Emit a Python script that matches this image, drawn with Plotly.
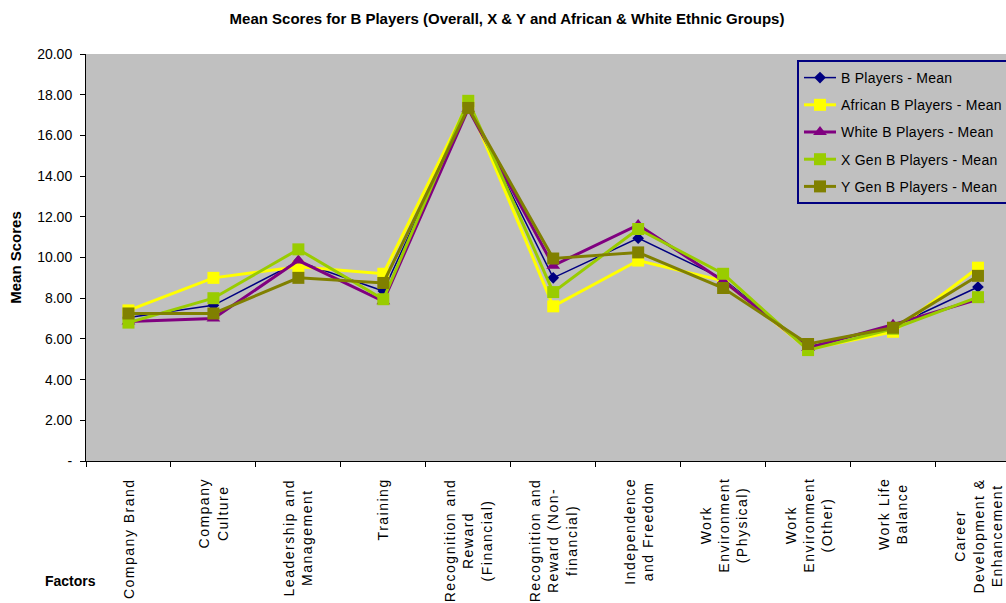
import plotly.graph_objects as go

# Factor names (x categories) and their wrapped axis labels
categories = [
    "Company Brand", "Company Culture", "Leadership and Management", "Training",
    "Recognition and Reward (Financial)", "Recognition and Reward (Non-financial)",
    "Independence and Freedom", "Work Environment (Physical)",
    "Work Environment (Other)", "Work Life Balance", "Career Development & Enhancement",
]
tick_labels = [
    "Company Brand", "Company<br>Culture", "Leadership and<br>Management", "Training",
    "Recognition and<br>Reward<br>(Financial)", "Recognition and<br>Reward (Non-<br>financial)",
    "Independence<br>and Freedom", "Work<br>Environment<br>(Physical)",
    "Work<br>Environment<br>(Other)", "Work Life<br>Balance", "Career<br>Development &<br>Enhancement",
]

# Mean scores per group
b_players = [7.05, 7.65, 9.80, 8.35, 17.40, 9.00, 10.95, 8.95, 5.60, 6.60, 8.55]
african_b = [7.40, 9.00, 9.55, 9.20, 17.60, 7.60, 9.85, 8.85, 5.50, 6.35, 9.50]
white_b = [6.85, 7.00, 9.85, 7.85, 17.30, 9.60, 11.60, 8.85, 5.55, 6.70, 7.95]
x_gen_b = [6.80, 8.00, 10.40, 7.95, 17.70, 8.30, 11.40, 9.20, 5.45, 6.50, 8.05]
y_gen_b = [7.25, 7.25, 9.00, 8.75, 17.35, 9.95, 10.25, 8.50, 5.75, 6.55, 9.10]

series_names = [
    "B Players - Mean", "African B Players - Mean", "White B Players - Mean",
    "X Gen B Players - Mean", "Y Gen B Players - Mean",
]

y_tick_vals = [0, 2, 4, 6, 8, 10, 12, 14, 16, 18, 20]
y_tick_text = ["-", "2.00", "4.00", "6.00", "8.00", "10.00", "12.00", "14.00", "16.00", "18.00", "20.00"]

FONT = "Liberation Sans, Arial, sans-serif"

styles = [
    ("#000080", 1.5, "diamond", 9),
    ("#FFFF00", 3, "square", 12),
    ("#800080", 3, "triangle-up", 12),
    ("#99CC00", 3, "square", 12),
    ("#808000", 3, "square", 12),
]
values = [b_players, african_b, white_b, x_gen_b, y_gen_b]

fig = go.Figure()
for i, (name, vals, (color, lw, sym, ms)) in enumerate(zip(series_names, values, styles)):
    fig.add_trace(go.Scatter(
        x=categories, y=vals, mode="lines+markers",
        name='<span style="letter-spacing:0.25px">' + name + "</span>",
        legendgroup=f"g{i}",
        line=dict(color=color, width=lw),
        marker=dict(symbol=sym, size=ms, color=color, line=dict(width=0)),
    ))

# Rotated, centre-aligned factor labels under each category
for cat, lab in zip(categories, tick_labels):
    fig.add_annotation(
        x=cat, xref="x", y=-0.037, yref="paper", yanchor="top", xanchor="center",
        text='<span style="letter-spacing:1.5px">' + lab + "</span>",
        textangle=-90, align="center", showarrow=False,
        font=dict(family=FONT, size=14, color="#000000"),
    )

# x-axis caption at the lower left
fig.add_annotation(
    x=(70 - 86) / 920, xref="paper", xanchor="center",
    y=(461 - 581) / 407, yref="paper", yanchor="middle",
    text="<b>Factors</b>", showarrow=False,
    font=dict(family=FONT, size=14, color="#000000"),
)

fig.update_layout(
    width=1006, height=603,
    margin=dict(l=86, r=0, t=54, b=142, autoexpand=False),
    paper_bgcolor="#FFFFFF", plot_bgcolor="#C0C0C0",
    font=dict(family=FONT, size=14, color="#000000"),
    title=dict(
        text="<b>Mean Scores for B Players (Overall, X & Y and African & White Ethnic Groups)</b>",
        x=0.504, xanchor="center", xref="container",
        y=1 - 19 / 603, yanchor="middle", yref="container",
        font=dict(family=FONT, size=15, color="#000000"),
    ),
    showlegend=True,
    legend=dict(
        x=(797 - 86) / 920, xanchor="left", y=(461 - 60) / 407, yanchor="top",
        bgcolor="#C0C0C0", bordercolor="#000080", borderwidth=2,
        font=dict(family=FONT, size=14, color="#000000"),
        tracegroupgap=6, itemwidth=32,
    ),
    xaxis=dict(
        type="category", range=[-0.5, 10.33],
        showticklabels=False, tickson="boundaries", ticks="outside", ticklen=5,
        tickcolor="#000000", showline=True, linecolor="#000000", linewidth=1,
        showgrid=False, zeroline=False, fixedrange=True,
    ),
    yaxis=dict(
        range=[0, 20], tickvals=y_tick_vals, ticktext=y_tick_text,
        ticks="outside", ticklen=5, tickcolor="#000000",
        showline=True, linecolor="#000000", linewidth=1,
        showgrid=False, zeroline=False,
        tickfont=dict(family=FONT, size=14), ticklabelstandoff=5,
        title=dict(text="<b>Mean Scores</b>", standoff=11, font=dict(family=FONT, size=15)),
        automargin=False,
    ),
)

fig.write_html("out.html")
